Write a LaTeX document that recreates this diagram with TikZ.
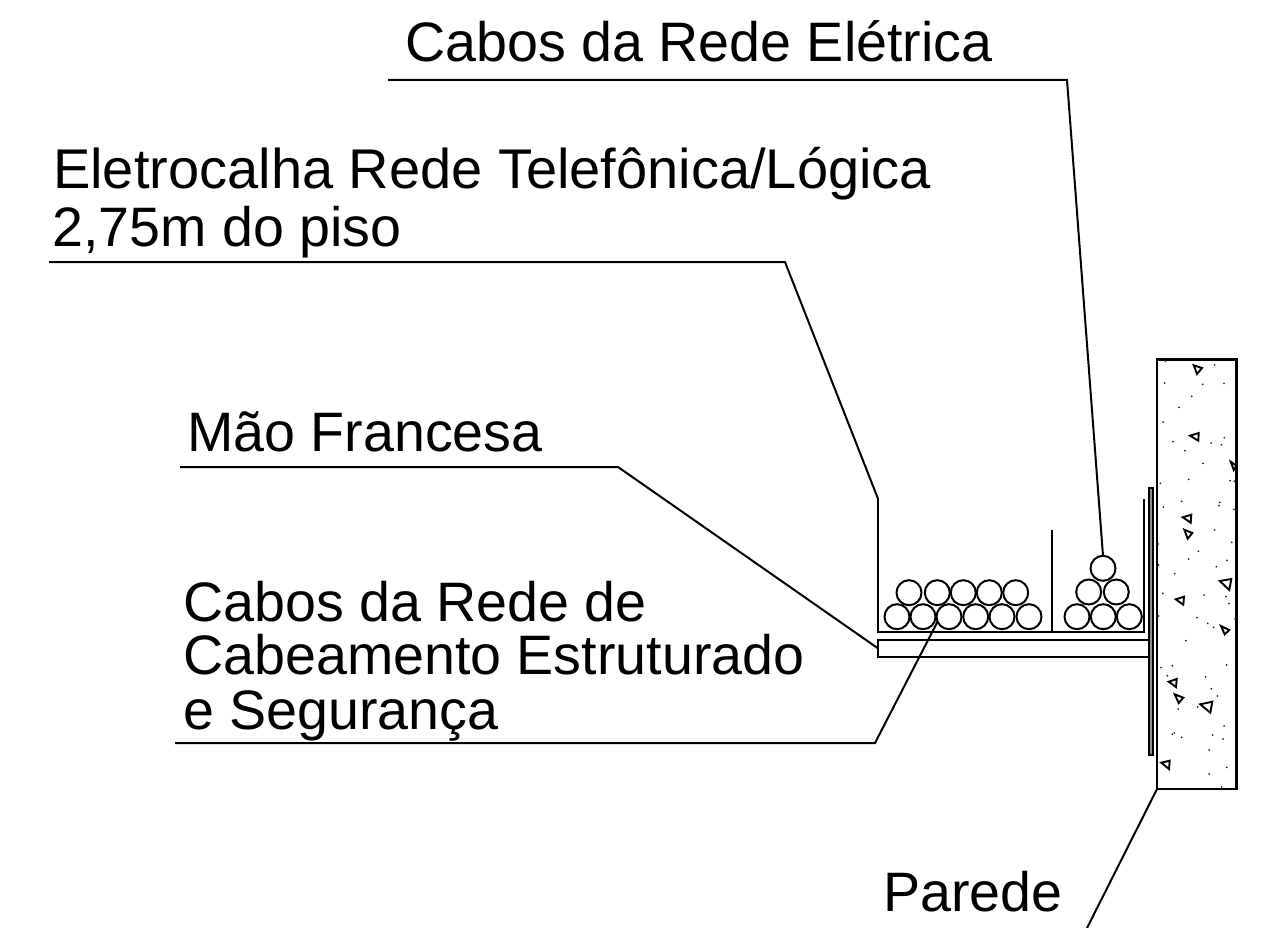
\documentclass[tikz,border=0pt]{standalone}
\usepackage{fontspec}
\setmainfont{Liberation Sans}
\begin{document}
\begin{tikzpicture}[x=1pt,y=-1pt,
  label text/.style={anchor=base west,inner sep=0pt,font=\fontsize{55.6}{56}\selectfont},
  ink/.style={draw=black,line width=2.2pt,line join=miter},
  leader/.style={draw=black,line width=2pt,line join=miter},
  cable/.style={circle,draw=black,line width=2pt,minimum size=25pt,inner sep=0pt,outer sep=0pt},
  speck/.style={fill=black!85,draw=none},
  stone/.style={draw=black,line width=1.9pt,line join=miter}]
\useasboundingbox (0,0) rectangle (1271,928);
% labels
\node[label text] (t1) at (405,62) {Cabos da Rede Elétrica};
\node[label text,font=\fontsize{56}{56}\selectfont] (t2) at (53,189) {Eletrocalha Rede Telefônica/Lógica};
\node[label text] (t3) at (52,246) {2,75m do piso};
\node[label text] (t4) at (187,451) {Mão Francesa};
\node[label text] (t5) at (183,621) {Cabos da Rede de};
\node[label text] (t6) at (183,674) {Cabeamento Estruturado};
\node[label text] (t7) at (183,729) {e Segurança};
\node[label text] (t8) at (883,911) {Parede};
% wall
\node[draw=black,line width=2.4pt,outer sep=0pt,minimum width=79.6pt,minimum height=429.6pt,inner sep=0pt,anchor=north west] (wall) at (1157,359.3) {};
% plate
\node[draw=black,line width=1.6pt,fill=black!45,outer sep=0pt,minimum width=3.7pt,minimum height=266.7pt,inner sep=0pt,anchor=north west] (plate) at (1149,488) {};
% beam
\node[ink,outer sep=0pt,minimum width=271.3pt,minimum height=17pt,inner sep=0pt,anchor=north west] (beam) at (877.7,640) {};
% tray
\coordinate (trayTL) at (877.7,498);
\coordinate (trayBL) at (877.7,632);
\coordinate (trayBR) at (1144,632);
\coordinate (trayTR) at (1144,498.5);
\coordinate (divT) at (1052,530);
\coordinate (divB) at (1052,632);
\draw[ink] (trayTL) -- (trayBL) -- (trayBR) -- (trayTR);
\draw[ink] (divT) -- (divB);
% cables, left
\foreach \n/\x in {a/897,b/923,c/949,d/975.7,e/1002,f/1029}
  \node[cable] (l\n) at (\x,616.7) {};
\foreach \n/\x in {a/909,b/937.3,c/963.3,d/989.3,e/1015.7}
  \node[cable] (u\n) at (\x,592.7) {};
% cables, right
\foreach \n/\x in {a/1077,b/1103.3,c/1129.3}
  \node[cable] (r\n) at (\x,616.7) {};
\node[cable] (sa) at (1088.7,592) {};
\node[cable] (sb) at (1116.3,592) {};
\node[cable] (top) at (1103,568.3) {};
% leaders
\coordinate (a1) at (388,80); \coordinate (a2) at (1067,80);
\draw[leader] (a1) -- (a2) -- (top.north);
\coordinate (b1) at (49,262); \coordinate (b2) at (785,262);
\draw[leader] (b1) -- (b2) -- (trayTL);
\coordinate (c1) at (180,467); \coordinate (c2) at (618,467); \coordinate (c3) at (877.5,648);
\draw[leader] (c1) -- (c2) -- (c3);
\coordinate (d1) at (175,743); \coordinate (d2) at (875,743); \coordinate (d3) at (937.5,621.7);
\draw[leader] (d1) -- (d2) -- (d3);
\coordinate (e1) at (1157,789); \coordinate (e2) at (1087,928);
\draw[leader] (e1) -- (e2);
% aggregate: triangles
\foreach \a/\b/\c/\d/\e/\f in {
 1193.7/365.3/1202/368/1197/374,
 1190/435.7/1198.7/433/1198.3/440.7,
 1230.7/461.7/1236.5/465.7/1233.7/470,
 1182.7/517.3/1191.3/514.7/1190.7/522.7,
 1184.3/529.7/1192.3/533/1187.7/538.7,
 1219.7/581/1231.3/579/1229.3/590,
 1175.7/599.3/1184/596.7/1183.3/604.7,
 1221/626/1229.3/630/1224.7/634.3,
 1168.7/681.7/1176.7/679/1176/687,
 1174.7/694.3/1183.3/697.7/1178.7/703,
 1200.3/704.3/1212.3/701.7/1210.3/712.7,
 1161.3/762.7/1169.7/760.7/1169/769}
  \draw[stone] (\a,\b) -- (\c,\d) -- (\e,\f) -- cycle;
% aggregate: specks
\foreach \x/\y in {
 76/33,224/45,74/99,188/103,252/100,155/139,117/172,69/216,99/275,135/302,213/279,244/284,253/263,189/340,146/388,61/400,270/392,283/394,125/454,239/457,237/467,70/471,282/478,224/540,54/582,275/577,175/604,146/627,261/631,56/645,229/650,104/671}
  \fill[speck] (1140+\x/3,350+\y/3) circle (1pt);
\foreach \x/\y in {
 68/70,192/75,258/80,267/101,56/138,171/143,203/160,221/172,285/147,138/212,260/285,63/293,97/287,82/317,197/321,214/356,232/378,173/411,114/417,252/468,103/489,97/493,218/495,125/502,249/507,207/540,260/592,207/612,245/651}
  \fill[speck] (1140+\x/3,570+\y/3) circle (1pt);
\end{tikzpicture}
\end{document}
